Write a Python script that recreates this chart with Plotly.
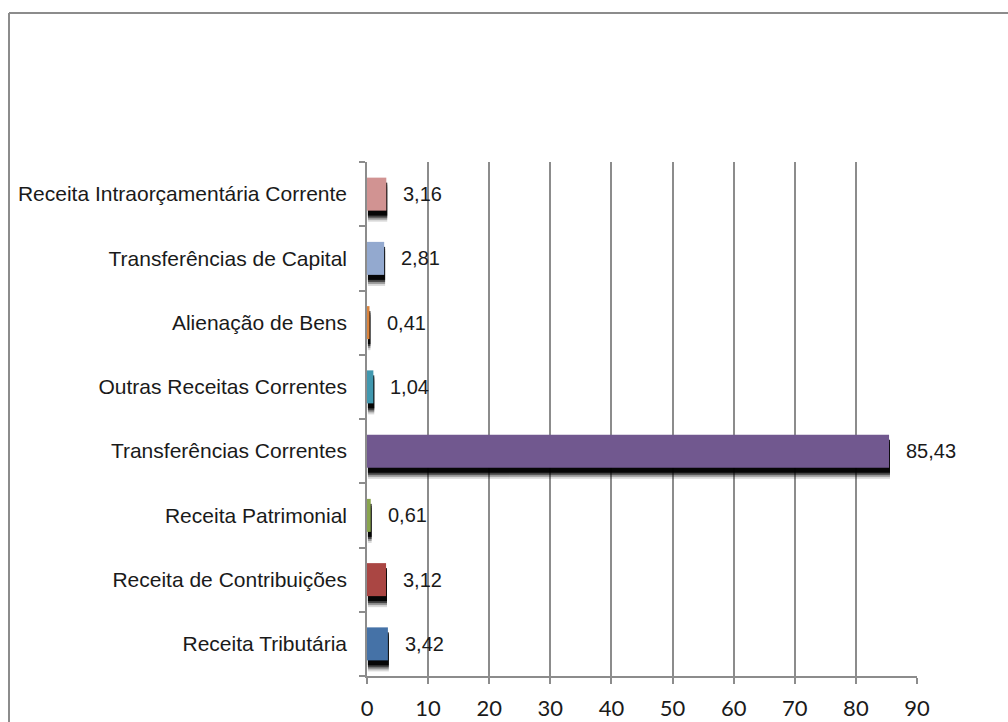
import plotly.graph_objects as go

categories = [
    "Receita Tributária",
    "Receita de Contribuições",
    "Receita Patrimonial",
    "Transferências Correntes",
    "Outras Receitas Correntes",
    "Alienação de Bens",
    "Transferências de Capital",
    "Receita Intraorçamentária Corrente",
]
values = [3.42, 3.12, 0.61, 85.43, 1.04, 0.41, 2.81, 3.16]
colors = ["#4572A7", "#AA4643", "#89A54E", "#71588F",
          "#4198AF", "#DB843D", "#93A9CF", "#D19392"]
x_ticks = [0, 10, 20, 30, 40, 50, 60, 70, 80, 90]

W, H = 1008, 722
L, R, T, B = 367, 91, 162, 46
band_px = (H - T - B) / len(categories)
bar_w = 33 / band_px

fig = go.Figure()

# soft shadow layers (drawn behind the bars)
for shift_px, op in [(11, 0.15), (9, 0.3), (7, 0.55), (5, 0.9)]:
    fig.add_trace(go.Bar(
        x=values, y=categories, orientation="h",
        base=0.15,
        width=bar_w, offset=-bar_w / 2 - shift_px / band_px,
        marker=dict(color="black", line=dict(width=0)),
        opacity=op, hoverinfo="skip", showlegend=False,
    ))

fig.add_trace(go.Bar(
    x=values, y=categories, orientation="h",
    width=bar_w, offset=-bar_w / 2,
    marker=dict(color=colors, line=dict(width=0)),
    showlegend=False,
))

for v, c in zip(values, categories):
    fig.add_annotation(
        x=v, y=c, xref="x", yref="y",
        text=f"{v:.2f}".replace(".", ","),
        showarrow=False, xanchor="left", xshift=15,
        font=dict(family="Liberation Sans, Arial", size=20, color="#1a1a1a"),
    )

# outer chart border (left and top visible)
ph = H - T - B
pw = W - L - R
fig.add_shape(type="line", xref="paper", yref="paper",
              x0=(9 - L) / pw, x1=(W + 5 - L) / pw,
              y0=(H - 13 - B) / ph, y1=(H - 13 - B) / ph,
              line=dict(color="#8c8c8c", width=2))
fig.add_shape(type="line", xref="paper", yref="paper",
              x0=(9 - L) / pw, x1=(9 - L) / pw,
              y0=(H - 13 - B) / ph, y1=-(B + 10) / ph,
              line=dict(color="#8c8c8c", width=2))

fig.update_layout(
    width=W, height=H,
    margin=dict(l=L, r=R, t=T, b=B, autoexpand=False),
    barmode="overlay",
    paper_bgcolor="white", plot_bgcolor="white",
    font=dict(family="Liberation Sans, Arial", size=20, color="#1a1a1a"),
    showlegend=False,
)
fig.update_xaxes(
    range=[0, 90], tickvals=x_ticks, ticktext=[str(t) for t in x_ticks],
    showgrid=True, gridcolor="#8c8c8c", gridwidth=1.5,
    showline=True, linecolor="#8c8c8c", linewidth=1.5,
    ticks="outside", ticklen=6, tickcolor="#8c8c8c", tickwidth=1.5,
    tickfont=dict(family="Lato, Carlito, Calibri", size=22, color="#1a1a1a"),
    ticklabelstandoff=6, automargin=False,
    zeroline=False, fixedrange=True,
)
fig.update_yaxes(
    categoryorder="array", categoryarray=categories,
    showgrid=False, showline=True, linecolor="#8c8c8c", linewidth=1.5,
    ticks="outside", ticklen=6, tickcolor="#8c8c8c", tickwidth=1.5,
    tickson="boundaries", ticklabelstandoff=14, automargin=False,
    tickfont=dict(family="Liberation Sans, Arial", size=21, color="#1a1a1a"),
    fixedrange=True,
)

fig.write_html(
    "out.html",
    config={"displayModeBar": False},
    post_script="document.body.style.margin='0';document.body.style.overflow='hidden';",
)
